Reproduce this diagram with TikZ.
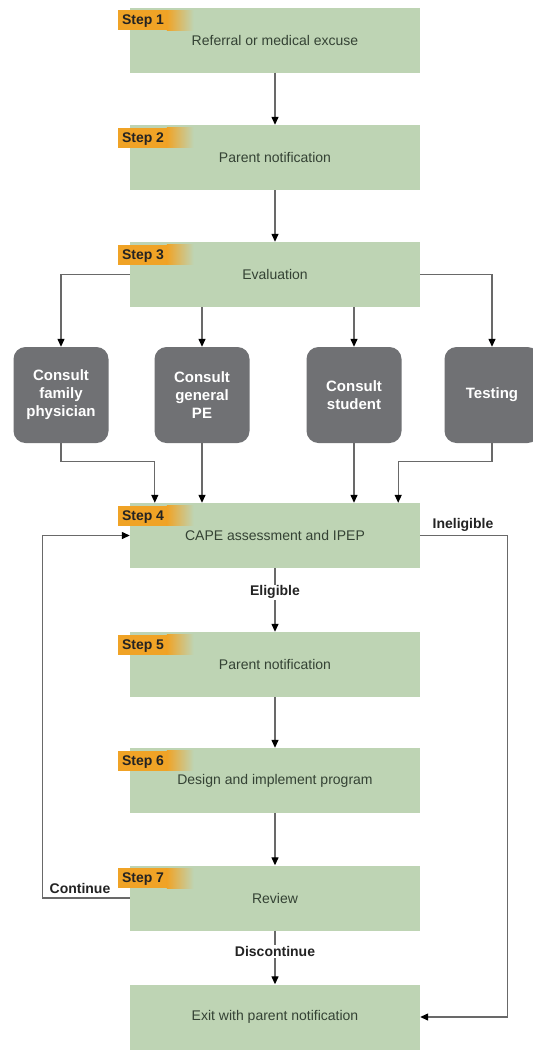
\documentclass[tikz,border=0pt]{standalone}
\usepackage{fontspec}
\setmainfont{Liberation Sans}
\usetikzlibrary{arrows.meta,calc}

\definecolor{boxgreen}{RGB}{190,212,180}
\definecolor{boxtext}{RGB}{52,66,52}
\definecolor{taborange}{RGB}{240,163,38}
\definecolor{consultgray}{RGB}{112,113,116}
\definecolor{wire}{RGB}{105,105,105}
\definecolor{labelink}{RGB}{35,35,35}

\begin{document}
\begin{tikzpicture}[x=1pt,y=-1pt,
  stepbox/.style={fill=boxgreen, minimum width=290pt, minimum height=65pt,
    inner sep=0pt, text=boxtext, font=\fontsize{14}{16}\selectfont},
  consultbox/.style={fill=consultgray, rounded corners=12pt, minimum width=95pt,
    minimum height=96pt, inner sep=0pt, align=center, text=white,
    font=\bfseries\fontsize{15}{18}\selectfont},
  flow/.style={draw=wire, line width=1.3pt,
    -{Triangle[length=8pt,width=7pt,color=black]}},
  lbl/.style={text=labelink, font=\bfseries\fontsize{14}{16}\selectfont},
  steptag/.style={text=labelink, font=\bfseries\fontsize{14}{16}\selectfont,
    anchor=west, inner sep=0pt}
]
\useasboundingbox (0,0) rectangle (533,1050);
\fill[white] (0,0) rectangle (533,1050);

% main steps
\node[stepbox] (s1) at (275,40)    {Referral or medical excuse};
\node[stepbox] (s2) at (275,157.5) {Parent notification};
\node[stepbox] (s3) at (275,274.5) {Evaluation};
\node[stepbox] (s4) at (275,535.5) {CAPE assessment and IPEP};
\node[stepbox] (s5) at (275,664.5) {Parent notification};
\node[stepbox] (s6) at (275,780.5) {Design and implement program};
\node[stepbox] (s7) at (275,898)   {Review};
\node[stepbox] (s8) at (275,1017)  {Exit with parent notification};

% orange step tabs
\foreach \s in {1,...,7}{
  \fill[taborange] ($(s\s.north west)+(-12,3)$) rectangle ($(s\s.north west)+(37,23)$);
  \shade[left color=taborange, right color=boxgreen]
    ($(s\s.north west)+(37,3)$) rectangle ($(s\s.north west)+(64,23)$);
  \node[steptag] at ($(s\s.north west)+(-8,14)$) {Step \s};
}

% consultation boxes
\node[consultbox] (c1) at (61,395)  {Consult\\family\\physician};
\node[consultbox] (c2) at (202,395) {Consult\\general\\PE};
\node[consultbox] (c3) at (354,395) {Consult\\student};
\node[consultbox] (c4) at (492,395) {Testing};

% straight flow
\draw[flow] (s1) -- (s2);
\draw[flow] (s2) -- (s3);
\draw[flow] (s5) -- (s6);
\draw[flow] (s6) -- (s7);

% evaluation fans out
\draw[flow] (s3.west) -| (c1.north);
\draw[flow] (s3.south -| c2.north) -- (c2.north);
\draw[flow] (s3.south -| c3.north) -- (c3.north);
\draw[flow] (s3.east) -| (c4.north);

% consultations feed the assessment
\coordinate (in1) at ($(s4.north west)+(25,0)$);
\coordinate (in4) at ($(s4.north east)+(-22,0)$);
\draw[flow] (c1.south) -- ++(0,18) -| (in1);
\draw[flow] (c2.south) -- (c2.south |- s4.north);
\draw[flow] (c3.south) -- (c3.south |- s4.north);
\draw[flow] (c4.south) -- ++(0,18) -| (in4);

% decisions
\draw[flow] (s4) -- node[lbl, pos=0.38, fill=white, inner sep=1pt] {Eligible} (s5);
\draw[flow] (s7) -- node[lbl, pos=0.39, fill=white, inner sep=1pt] {Discontinue} (s8);
\draw[flow] (s7.west) -- ++(-87,0) |- (s4.west);
\draw[flow] (s4.east) -- ++(87,0) |- (s8.east);
\node[lbl] (lcont) at (80,888) {Continue};
\node[lbl] (linel) at (463,525) {Ineligible};

\end{tikzpicture}
\end{document}
